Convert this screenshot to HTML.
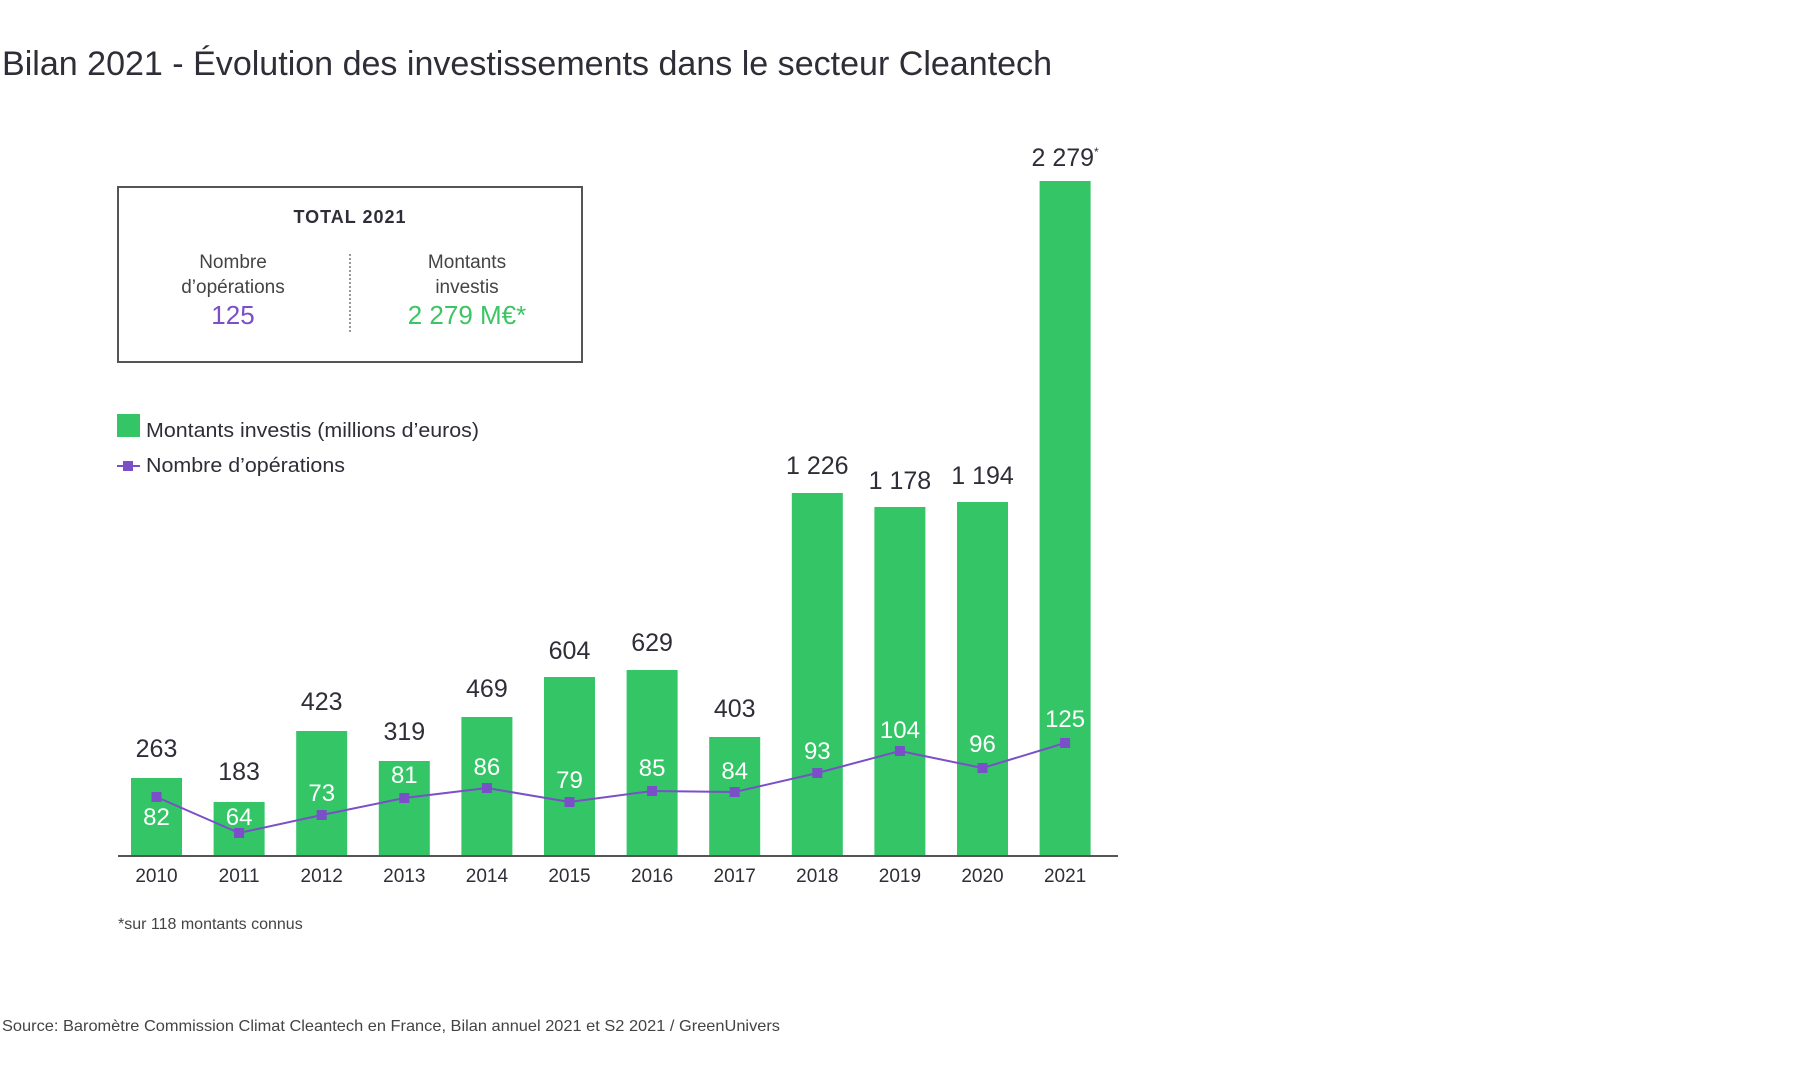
<!DOCTYPE html>
<html><head><meta charset="utf-8"><style>
html,body{margin:0;padding:0;background:#fff;}
svg{display:block;font-family:"Liberation Sans",sans-serif;}
</style></head><body>
<svg width="1811" height="1080" viewBox="0 0 1811 1080" xmlns="http://www.w3.org/2000/svg">
<rect width="1811" height="1080" fill="#fff"/>
<text x="2" y="75" font-size="34" fill="#2e2e38" textLength="1050" lengthAdjust="spacingAndGlyphs">Bilan 2021 - Évolution des investissements dans le secteur Cleantech</text>
<rect x="118" y="187" width="464" height="175" fill="none" stroke="#555" stroke-width="2"/>
<text x="350" y="223" font-size="18" fill="#2e2e38" text-anchor="middle" font-weight="bold" letter-spacing="1">TOTAL 2021</text>
<line x1="350" y1="254" x2="350" y2="333" stroke="#777" stroke-width="1.5" stroke-dasharray="2,2"/>
<g font-size="19" fill="#444" text-anchor="middle">
<text x="233" y="268">Nombre</text><text x="233" y="293">d’opérations</text>
<text x="467" y="268">Montants</text><text x="467" y="293">investis</text>
</g>
<text x="233" y="324" font-size="26" fill="#7a4fc8" text-anchor="middle">125</text>
<text x="467" y="324" font-size="26" fill="#3cc465" text-anchor="middle">2 279 M€*</text>
<rect x="117" y="414" width="23" height="23" fill="#33c566"/>
<text x="146" y="437" font-size="20" fill="#2e2e38" textLength="333" lengthAdjust="spacingAndGlyphs">Montants investis (millions d’euros)</text>
<line x1="117" y1="466" x2="140" y2="466" stroke="#7a4fc8" stroke-width="2"/>
<rect x="123" y="461" width="10" height="10" fill="#7a4fc8"/>
<text x="146" y="472" font-size="20" fill="#2e2e38" textLength="199" lengthAdjust="spacingAndGlyphs">Nombre d’opérations</text>
<g fill="#33c566">
<rect x="131" y="778" width="51" height="78"/>
<rect x="213.6" y="802" width="51" height="54"/>
<rect x="296.2" y="731" width="51" height="125"/>
<rect x="378.8" y="761" width="51" height="95"/>
<rect x="461.4" y="717" width="51" height="139"/>
<rect x="544" y="677" width="51" height="179"/>
<rect x="626.6" y="670" width="51" height="186"/>
<rect x="709.2" y="737" width="51" height="119"/>
<rect x="791.8" y="493" width="51" height="363"/>
<rect x="874.4" y="507" width="51" height="349"/>
<rect x="957" y="502" width="51" height="354"/>
<rect x="1039.6" y="181" width="51" height="675"/>
</g>
<line x1="118" y1="856" x2="1118" y2="856" stroke="#555" stroke-width="2"/>
<polyline fill="none" stroke="#7a4fc8" stroke-width="2" points="156.5,797 239.1,833 321.7,815 404.3,798 486.9,788 569.5,802 652.1,791 734.7,792 817.3,773 899.9,751 982.5,768 1065.1,743"/>
<g fill="#7a4fc8">
<rect x="151.5" y="792" width="10" height="10"/><rect x="234.1" y="828" width="10" height="10"/>
<rect x="316.7" y="810" width="10" height="10"/><rect x="399.3" y="793" width="10" height="10"/>
<rect x="481.9" y="783" width="10" height="10"/><rect x="564.5" y="797" width="10" height="10"/>
<rect x="647.1" y="786" width="10" height="10"/><rect x="729.7" y="787" width="10" height="10"/>
<rect x="812.3" y="768" width="10" height="10"/><rect x="894.9" y="746" width="10" height="10"/>
<rect x="977.5" y="763" width="10" height="10"/><rect x="1060.1" y="738" width="10" height="10"/>
</g>
<g font-size="24" fill="#fff" text-anchor="middle">
<text x="156.5" y="825">82</text><text x="239.1" y="825">64</text><text x="321.7" y="801">73</text>
<text x="404.3" y="783">81</text><text x="486.9" y="775">86</text><text x="569.5" y="788">79</text>
<text x="652.1" y="776">85</text><text x="734.7" y="779">84</text><text x="817.3" y="759">93</text>
<text x="899.9" y="738">104</text><text x="982.5" y="752">96</text><text x="1065.1" y="727">125</text>
</g>
<g font-size="25" fill="#2e2e38" text-anchor="middle">
<text x="156.5" y="757">263</text><text x="239.1" y="780">183</text><text x="321.7" y="710">423</text>
<text x="404.3" y="740">319</text><text x="486.9" y="697">469</text><text x="569.5" y="659">604</text>
<text x="652.1" y="651">629</text><text x="734.7" y="717">403</text><text x="817.3" y="474">1 226</text>
<text x="899.9" y="489">1 178</text><text x="982.5" y="484">1 194</text><text x="1065.1" y="166">2 279<tspan font-size="12" dy="-10">*</tspan></text>
</g>
<g font-size="19" fill="#2e2e38" text-anchor="middle">
<text x="156.5" y="882">2010</text><text x="239.1" y="882">2011</text><text x="321.7" y="882">2012</text>
<text x="404.3" y="882">2013</text><text x="486.9" y="882">2014</text><text x="569.5" y="882">2015</text>
<text x="652.1" y="882">2016</text><text x="734.7" y="882">2017</text><text x="817.3" y="882">2018</text>
<text x="899.9" y="882">2019</text><text x="982.5" y="882">2020</text><text x="1065.1" y="882">2021</text>
</g>
<text x="118" y="929" font-size="16" fill="#444">*sur 118 montants connus</text>
<text x="2" y="1031" font-size="16" fill="#444" textLength="778" lengthAdjust="spacingAndGlyphs">Source: Baromètre Commission Climat Cleantech en France, Bilan annuel 2021 et S2 2021 / GreenUnivers</text>
</svg>
</body></html>
